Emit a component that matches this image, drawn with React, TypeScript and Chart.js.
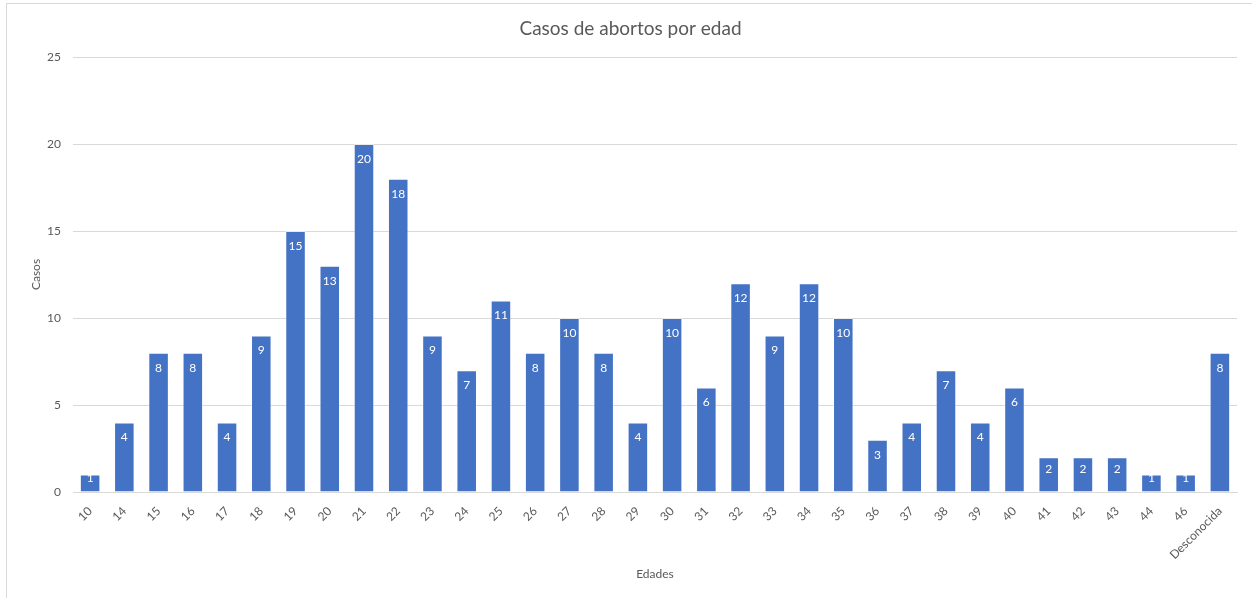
import React, { useEffect, useRef } from "react";
import { Chart, registerables } from "chart.js";

Chart.register(...registerables);

const TITLE = "Casos de abortos por edad";
const X_TITLE = "Edades";
const Y_TITLE = "Casos";
const categories = [
  "10", "14", "15", "16", "17", "18", "19", "20", "21", "22", "23", "24",
  "25", "26", "27", "28", "29", "30", "31", "32", "33", "34", "35", "36",
  "37", "38", "39", "40", "41", "42", "43", "44", "46", "Desconocida",
];
const casos = [
  1, 4, 8, 8, 4, 9, 15, 13, 20, 18, 9, 7,
  11, 8, 10, 8, 4, 10, 6, 12, 9, 12, 10, 3,
  4, 7, 4, 6, 2, 2, 2, 1, 1, 8,
];

const FONT = "Lato, 'Open Sans', sans-serif";
const GRAY = "#595959";

const labelPlugin = {
  id: "barLabels",
  afterDatasetsDraw(chart: any) {
    const ctx = chart.ctx;
    const meta = chart.getDatasetMeta(0);
    ctx.save();
    ctx.fillStyle = "#ffffff";
    ctx.font = `12px ${FONT}`;
    ctx.textAlign = "center";
    ctx.textBaseline = "middle";
    meta.data.forEach((bar: any, i: number) => {
      const h = bar.base - bar.y;
      const off = Math.min(15, h / 2 - 5);
      ctx.fillText(String(casos[i]), bar.x, bar.y + Math.max(off, 3));
    });
    ctx.restore();
  },
};

export default function App() {
  const ref = useRef<HTMLCanvasElement | null>(null);
  useEffect(() => {
    if (!ref.current) return;
    const chart = new Chart(ref.current, {
      type: "bar",
      data: {
        labels: categories,
        datasets: [
          {
            data: casos,
            backgroundColor: "#4472C4",
            borderColor: "rgba(255,255,255,0.45)",
            borderWidth: 1,
            barPercentage: 0.6,
            categoryPercentage: 1,
          },
        ],
      },
      options: {
        animation: false,
        responsive: false,
        maintainAspectRatio: false,
        layout: { padding: { left: 24, right: 15, top: 0, bottom: 0 } },
        plugins: {
          legend: { display: false },
          tooltip: { enabled: false },
          title: {
            display: true,
            text: TITLE,
            color: GRAY,
            font: { family: FONT, size: 19, weight: "normal" },
            padding: { top: 17, bottom: 17.2 },
          },
        },
        scales: {
          x: {
            grid: { display: false },
            border: { display: true, color: "#d9d9d9" },
            ticks: {
              color: GRAY,
              font: { family: FONT, size: 12 },
              minRotation: 45,
              maxRotation: 45,
              autoSkip: false,
              padding: 4,
            },
            title: {
              display: true,
              text: X_TITLE,
              color: GRAY,
              font: { family: FONT, size: 12 },
              padding: { top: 0, bottom: 17 },
            },
            afterFit: (s: any) => {
              s.height = 106;
            },
          },
          y: {
            min: 0,
            max: 25,
            ticks: {
              stepSize: 5,
              color: GRAY,
              font: { family: FONT, size: 12 },
              padding: 12,
            },
            grid: { color: "#d9d9d9", drawTicks: false },
            border: { display: false },
            title: {
              display: true,
              text: Y_TITLE,
              color: GRAY,
              font: { family: FONT, size: 12 },
              padding: { top: 5, bottom: 0 },
            },
            afterFit: (s: any) => {
              s.width = 49;
            },
          },
        },
      },
      plugins: [labelPlugin],
    });
    return () => chart.destroy();
  }, []);

  return (
    <div style={{ position: "fixed", left: 0, top: 0, width: 1252, height: 598, background: "#fff" }}>
      <div
        style={{
          position: "absolute",
          left: 6,
          top: 3,
          width: 1260,
          height: 620,
          borderLeft: "1px solid #d9d9d9",
          borderTop: "1px solid #d9d9d9",
        }}
      />
      <canvas ref={ref} width={1252} height={598} style={{ position: "absolute", left: 0, top: 0 }} />
    </div>
  );
}
